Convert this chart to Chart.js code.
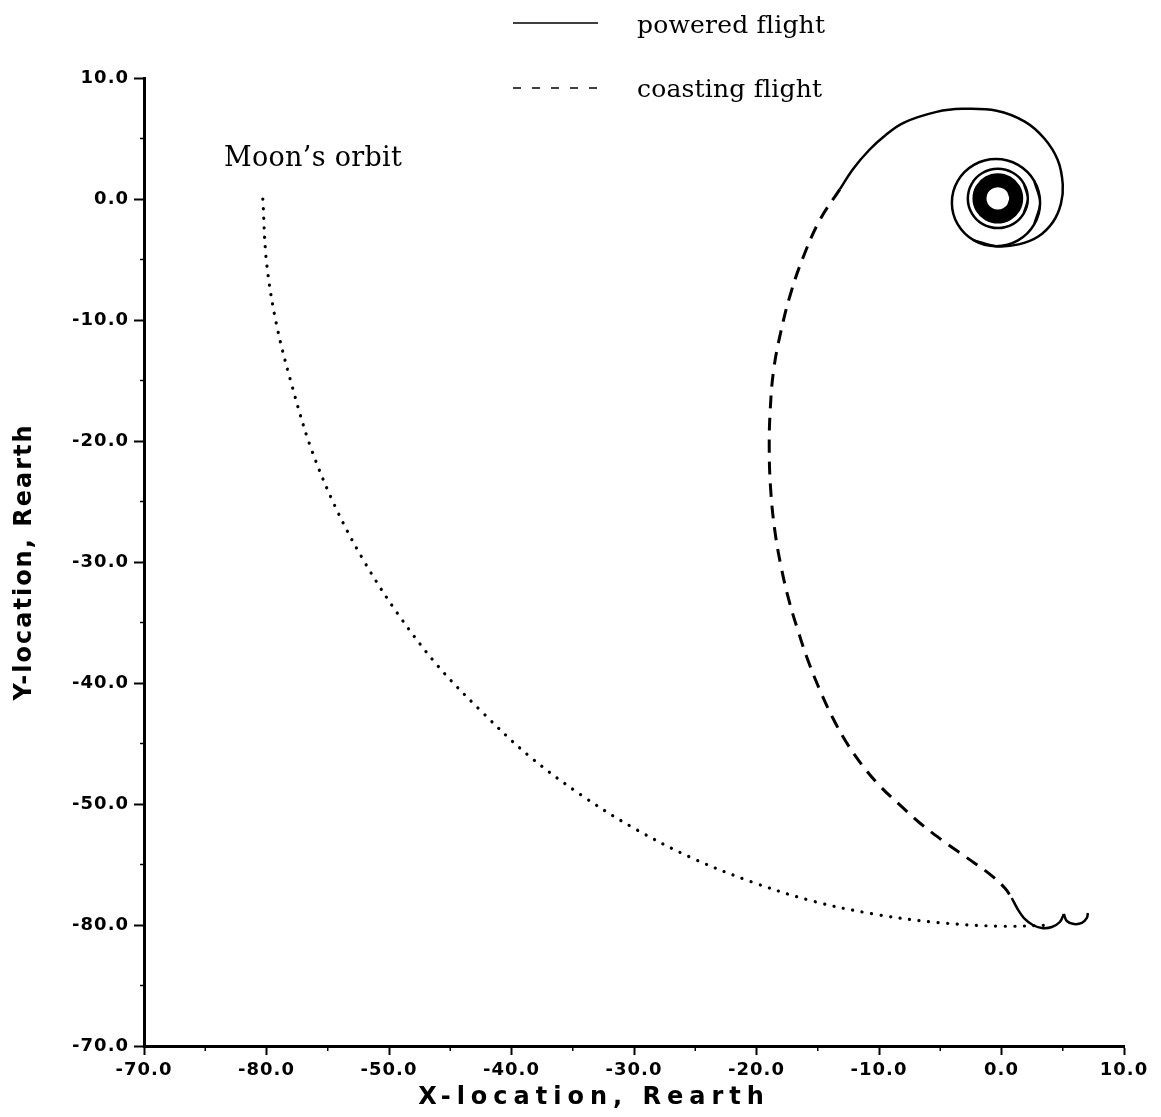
<!DOCTYPE html>
<html>
<head>
<meta charset="utf-8">
<script src="https://cdn.jsdelivr.net/npm/chart.js@4"></script>
<style>
  body { margin: 0; background: #fff; }
  #wrap { position: relative; width: 1161px; height: 1117px; }
  #notes { position: absolute; left: 0; top: 0; }
  #notes text { font-family: "DejaVu Serif", serif; fill: #000; }
</style>
</head>
<body>
<div id="wrap">
  <canvas id="chart" width="1161" height="1117"></canvas>
  <svg id="notes" width="1161" height="1117"></svg>
</div>
<script>
const X_TICKS = [-70, -60, -50, -40, -30, -20, -10, 0, 10];
const X_TICK_LABELS = ["-70.0", "-80.0", "-50.0", "-40.0", "-30.0", "-20.0", "-10.0", "0.0", "10.0"];
const Y_TICKS = [10, 0, -10, -20, -30, -40, -50, -60, -70];
const Y_TICK_LABELS = ["10.0", "0.0", "-10.0", "-20.0", "-30.0", "-40.0", "-50.0", "-80.0", "-70.0"];
const X_MINOR = [-65, -55, -45, -35, -25, -15, -5, 5];
const Y_MINOR = [5, -5, -15, -25, -35, -45, -55, -65];

const LEGEND_LABELS = ["powered flight", "coasting flight"];
const MOON_LABEL = "Moon’s orbit";

// dense windings close to the Earth (they print as one thick ring)
const CORE_WINDINGS = [
  [1.0, -0.7], [1.2, 0.05], [1.0, 0.8], [0.45, 1.35], [-0.3, 1.55], [-1.05, 1.35],
  [-1.6, 0.8], [-1.8, 0.05], [-1.6, -0.7], [-1.05, -1.25], [-0.3, -1.45], [0.45, -1.25],
  [1.0, -0.7], [1.2, 0.05], [1.0, 0.8],
];

const INNER_RING = [
  [1.82, -1.18], [2.15, 0.05], [1.82, 1.28], [0.93, 2.17], [-0.3, 2.5], [-1.53, 2.17],
  [-2.42, 1.28], [-2.75, 0.05], [-2.42, -1.18], [-1.53, -2.07], [-0.3, -2.4], [0.93, -2.07],
  [1.82, -1.18], [2.15, 0.05], [1.82, 1.28],
];

const OUTER_RING = [
  [2.67, -2.1], [3.15, -0.3], [2.67, 1.5], [1.35, 2.82], [-0.45, 3.3], [-2.25, 2.82],
  [-3.57, 1.5], [-4.05, -0.3], [-3.57, -2.1], [-2.25, -3.42], [-0.45, -3.9], [1.35, -3.42],
  [2.67, -2.1], [3.15, -0.3], [2.67, 1.5],
];

// escape loop, leaves the outer ring at the bottom and ends where coasting begins
const POWERED_ESCAPE = [
  [-2.25, -3.42], [-0.45, -3.9], [1.4, -3.75], [3.0, -3.1], [4.2, -1.9], [4.85, -0.4],
  [5.0, 1.2], [4.6, 3.2], [3.5, 5.0], [1.9, 6.4], [-0.4, 7.3], [-3.2, 7.45],
  [-5.3, 7.2], [-8.0, 6.3], [-9.5, 5.25], [-10.8, 4.05], [-12.1, 2.5], [-13.2, 0.8],
];

const COASTING = [
  [-13.2, 0.8], [-14.83, -1.74], [-16.15, -4.71], [-17.2, -7.77], [-18.02, -11.0],
  [-18.6, -14.13], [-18.88, -17.44], [-18.96, -20.74], [-18.84, -24.05], [-18.51, -27.36],
  [-18.02, -30.25], [-17.36, -33.14], [-16.63, -35.62], [-15.81, -38.1], [-14.83, -40.58],
  [-13.77, -42.89], [-12.63, -44.96], [-11.32, -46.86], [-9.93, -48.51], [-8.3, -50.08],
  [-6.67, -51.57], [-4.87, -52.98], [-2.91, -54.38], [-0.96, -55.79], [0.27, -56.94],
  [0.84, -57.77],
];

// capture burn near the Moon, split at the cusp
const POWERED_CAPTURE_A = [
  [0.84, -57.77], [1.33, -58.7], [1.9, -59.5], [2.56, -60.0], [3.29, -60.25],
  [4.11, -60.17], [4.76, -59.75], [5.09, -59.1],
];
const POWERED_CAPTURE_B = [
  [5.09, -59.1], [5.33, -59.67], [5.9, -59.92], [6.56, -59.83], [6.97, -59.42], [7.05, -59.0],
];

const MOON_ORBIT = [
  [-60.3, 0.0], [-60.0, -5.2], [-59.2, -10.3], [-57.9, -15.5], [-56.4, -20.5], [-54.4, -25.4],
  [-52.0, -30.0], [-49.2, -34.4], [-46.0, -38.6], [-42.4, -42.4], [-38.6, -46.0], [-34.4, -49.2],
  [-30.0, -52.0], [-25.4, -54.4], [-20.5, -56.4], [-15.5, -58.0], [-10.4, -59.1], [-5.2, -59.8],
  [0.0, -60.1], [4.2, -60.0],
];

function toPoints(pairs) {
  return pairs.map(([x, y]) => ({ x, y }));
}

function lineSet(pairs, extra) {
  return Object.assign({
    data: toPoints(pairs),
    showLine: true,
    pointRadius: 0,
    borderColor: "#000",
    backgroundColor: "#000",
    borderWidth: 2.5,
    borderJoinStyle: "round",
    fill: false,
    tension: 0.35,
  }, extra);
}

const tickFont = { family: "DejaVu Sans", weight: "bold", size: 18 };
const titleFont = { family: "DejaVu Sans", weight: "bold", size: 24 };

const minorTicks = {
  id: "minorTicks",
  beforeDraw(chart) {
    chart.ctx.letterSpacing = "1px";
  },
  afterDraw(chart) {
    const { ctx, chartArea, scales } = chart;
    ctx.save();
    ctx.strokeStyle = "#000";
    ctx.lineWidth = 1.5;
    X_MINOR.forEach((v) => {
      const px = scales.x.getPixelForValue(v);
      ctx.beginPath();
      ctx.moveTo(px, chartArea.bottom);
      ctx.lineTo(px, chartArea.bottom + 5);
      ctx.stroke();
    });
    Y_MINOR.forEach((v) => {
      const py = scales.y.getPixelForValue(v);
      ctx.beginPath();
      ctx.moveTo(chartArea.left, py);
      ctx.lineTo(chartArea.left - 4, py);
      ctx.stroke();
    });
    ctx.restore();
  },
};

// the scanned axis titles are printed wider than the tick labels
function spaceTitle(scale, spacing, shiftX) {
  if (scale._spacedTitle) return;
  const drawTitle = scale.drawTitle.bind(scale);
  scale.drawTitle = () => {
    const ctx = scale.ctx;
    ctx.save();
    ctx.letterSpacing = spacing;
    ctx.translate(shiftX, 0);
    drawTitle();
    ctx.restore();
  };
  scale._spacedTitle = true;
}

new Chart(document.getElementById("chart"), {
  type: "scatter",
  data: {
    datasets: [
      lineSet(MOON_ORBIT, {
        label: "Moon's orbit",
        borderWidth: 3.2,
        borderDash: [0.1, 9.5],
        borderCapStyle: "round",
      }),
      lineSet(CORE_WINDINGS, { label: "powered flight", borderWidth: 14 }),
      lineSet(INNER_RING, { label: "powered flight" }),
      lineSet(OUTER_RING, { label: "powered flight" }),
      lineSet(POWERED_ESCAPE, { label: "powered flight", tension: 0.38 }),
      lineSet(COASTING, { label: "coasting flight", borderWidth: 3, borderDash: [13, 9], tension: 0.4 }),
      lineSet(POWERED_CAPTURE_A, { label: "powered flight" }),
      lineSet(POWERED_CAPTURE_B, { label: "powered flight" }),
    ],
  },
  options: {
    responsive: false,
    animation: false,
    events: [],
    layout: { padding: { top: 78, right: 37, left: 0, bottom: 0 } },
    plugins: {
      legend: { display: false },
      tooltip: { enabled: false },
    },
    scales: {
      x: {
        type: "linear",
        min: -70,
        max: 10,
        afterBuildTicks: (scale) => {
          scale.ticks = X_TICKS.map((value) => ({ value }));
        },
        afterFit: (scale) => {
          scale.height = 71;
          spaceTitle(scale, "6px", -40);
        },
        border: { display: true, width: 3, color: "#000" },
        grid: { drawOnChartArea: false, drawTicks: true, tickLength: 9, tickWidth: 2, tickColor: "#000" },
        ticks: {
          autoSkip: false,
          maxRotation: 0,
          color: "#000",
          font: tickFont,
          padding: 5,
          callback: (value) => X_TICK_LABELS[X_TICKS.indexOf(value)],
        },
        title: {
          display: true,
          text: "X-location, Rearth",
          color: "#000",
          font: titleFont,
          padding: { top: 0, bottom: 5 },
        },
      },
      y: {
        type: "linear",
        min: -70,
        max: 10,
        afterBuildTicks: (scale) => {
          scale.ticks = Y_TICKS.map((value) => ({ value }));
        },
        afterFit: (scale) => {
          scale.width = 144;
          spaceTitle(scale, "2px", 0);
        },
        border: { display: true, width: 3, color: "#000" },
        grid: { drawOnChartArea: false, drawTicks: true, tickLength: 10, tickWidth: 2, tickColor: "#000" },
        ticks: {
          autoSkip: false,
          color: "#000",
          font: tickFont,
          padding: 5,
          callback: (value) => Y_TICK_LABELS[Y_TICKS.indexOf(value)],
        },
        title: {
          display: true,
          text: "Y-location, Rearth",
          color: "#000",
          font: titleFont,
          padding: { top: 10, bottom: 0 },
        },
      },
    },
  },
  plugins: [minorTicks],
});

// legend and the orbit note, drawn over the canvas
const svg = document.getElementById("notes");
const NS = "http://www.w3.org/2000/svg";

function addEl(tag, attrs, text) {
  const el = document.createElementNS(NS, tag);
  Object.entries(attrs).forEach(([k, v]) => el.setAttribute(k, v));
  if (text) el.textContent = text;
  svg.appendChild(el);
  return el;
}

addEl("line", { x1: 513, y1: 23, x2: 598, y2: 23, stroke: "#000", "stroke-width": 1.6 });
addEl("text", { x: 637, y: 33, "font-size": 25, "letter-spacing": 0.2 }, LEGEND_LABELS[0]);
addEl("line", { x1: 513, y1: 88, x2: 600, y2: 88, stroke: "#000", "stroke-width": 1.6, "stroke-dasharray": "8 11" });
addEl("text", { x: 637, y: 97, "font-size": 25, "letter-spacing": 0.2 }, LEGEND_LABELS[1]);
addEl("text", { x: 224, y: 166, "font-size": 27, "letter-spacing": 0.3 }, MOON_LABEL);
</script>
</body>
</html>
